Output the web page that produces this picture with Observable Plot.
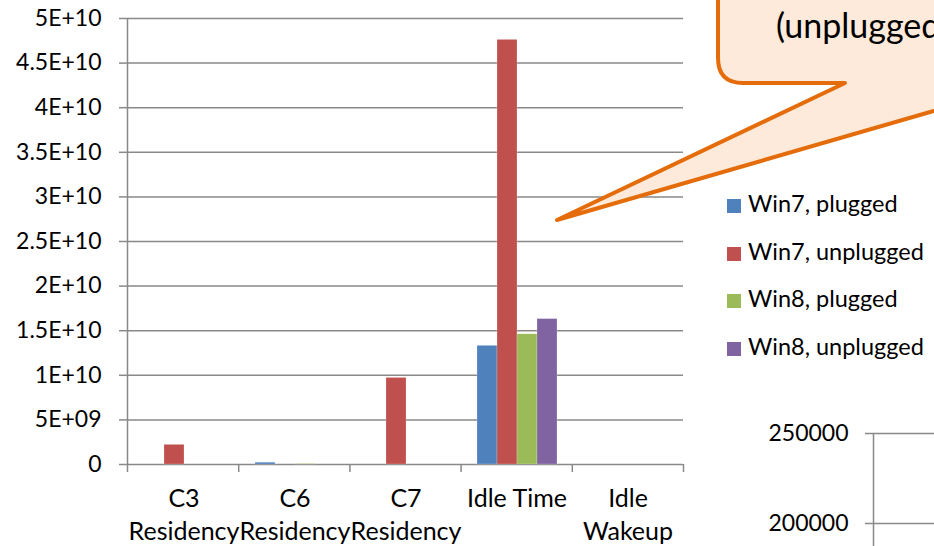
<!DOCTYPE html>
<html>
<head>
<meta charset="utf-8">
<script src="https://cdn.jsdelivr.net/npm/d3@7"></script>
<script src="https://cdn.jsdelivr.net/npm/@observablehq/plot@0.6"></script>
<style>
  html, body { margin: 0; padding: 0; background: #fff; }
  body { width: 934px; height: 546px; overflow: hidden; font-family: Lato, "Open Sans", sans-serif; }
  #wrap { position: relative; width: 934px; height: 546px; overflow: hidden; }
  #wrap > * { position: absolute; }
  .legend-row { height: 47.7px; line-height: 47.7px; font-size: 23.5px; color: #000; white-space: nowrap; }
  .sw { display: inline-block; width: 14px; height: 14px; margin-right: 7px; vertical-align: -1px; }
</style>
</head>
<body>
<div id="wrap"></div>
<script>
// ---- data ----
const categories = ["C3 Residency", "C6 Residency", "C7 Residency", "Idle Time", "Idle Wakeup"];
const categoryLabels = ["C3\nResidency", "C6\nResidency", "C7\nResidency", "Idle Time", "Idle\nWakeup"];
const series = ["Win7, plugged", "Win7, unplugged", "Win8, plugged", "Win8, unplugged"];
const win7Plugged   = [0,      0.2e9,  0,      13.3e9, 0];
const win7Unplugged = [2.2e9,  0,      9.7e9,  47.6e9, 0];
const win8Plugged   = [0,      0.05e9, 0,      14.6e9, 0];
const win8Unplugged = [0,      0,      0,      16.3e9, 0];
const seriesColors = ["#4F81BD", "#C0504D", "#9BBB59", "#8064A2"];
const yTicks = [0, 5e9, 1e10, 1.5e10, 2e10, 2.5e10, 3e10, 3.5e10, 4e10, 4.5e10, 5e10];
const yTickLabels = ["0", "5E+09", "1E+10", "1.5E+10", "2E+10", "2.5E+10", "3E+10", "3.5E+10", "4E+10", "4.5E+10", "5E+10"];
const secondTicks = [200000, 250000];
const secondTickLabels = ["200000", "250000"];
const calloutText = "(unplugged)";

const seriesValues = [win7Plugged, win7Unplugged, win8Plugged, win8Unplugged];
const data = categories.flatMap((c, i) => series.map((s, j) => ({category: c, series: s, value: seriesValues[j][i]})));

const wrap = document.getElementById("wrap");
const FONT = "Lato, 'Open Sans', sans-serif";
const GRID = "#898989";
const frame = {width: 934, height: 546, marginTop: 18, marginRight: 251, marginBottom: 82, marginLeft: 127};

// ---- background: grid, y axis, boundary ticks ----
const back = Plot.plot({
  ...frame,
  style: {fontFamily: FONT, fontSize: "23px", color: "#000", background: "transparent", overflow: "visible"},
  x: {type: "linear", domain: [0, categories.length], axis: null},
  y: {domain: [0, 5e10], axis: null},
  marks: [
    Plot.gridY(yTicks, {stroke: GRID, strokeOpacity: 1, strokeWidth: 1.5}),
    Plot.ruleX([0], {stroke: GRID, strokeWidth: 1.5}),
    Plot.axisY(yTicks, {tickSize: 8, tickPadding: 18, stroke: GRID, strokeWidth: 1.5, fill: "#000", fontSize: 23,
      tickFormat: (d) => yTickLabels[yTicks.indexOf(d)], label: null}),
    Plot.axisX(d3.range(0, categories.length + 1), {tickSize: 8, stroke: GRID, strokeWidth: 1.5, tickFormat: () => "", label: null})
  ]
});
back.style.left = "0px"; back.style.top = "0px";
wrap.appendChild(back);

// ---- bars + category labels ----
const bars = Plot.plot({
  ...frame,
  style: {fontFamily: FONT, fontSize: "25px", color: "#000", background: "transparent", overflow: "visible"},
  fx: {domain: categories, padding: 0},
  x: {domain: series, paddingInner: 0, paddingOuter: 0.775, axis: null},
  y: {domain: [0, 5e10], axis: null},
  color: {domain: series, range: seriesColors},
  marks: [
    Plot.barY(data, {fx: "category", x: "series", y: "value", fill: "series", stroke: "#fff", strokeOpacity: 0.35, strokeWidth: 0.6}),
    Plot.axisFx({anchor: "bottom", tickSize: 0, tickPadding: 19, fontSize: 25, lineHeight: 1.32, fill: "#000",
      tickFormat: (d) => categoryLabels[categories.indexOf(d)], label: null})
  ]
});
bars.style.left = "0px"; bars.style.top = "0px";
wrap.appendChild(bars);

// ---- legend ----
const legend = document.createElement("div");
legend.style.left = "727px"; legend.style.top = "180px";
series.forEach((s, i) => {
  const row = document.createElement("div");
  row.className = "legend-row";
  row.innerHTML = `<span class="sw" style="background:${seriesColors[i]}"></span>${s}`;
  legend.appendChild(row);
});
wrap.appendChild(legend);

// ---- partial second chart (bottom right) ----
const second = Plot.plot({
  width: 400, height: 503, marginTop: 33, marginRight: 0, marginBottom: 20, marginLeft: 173,
  style: {fontFamily: FONT, fontSize: "23px", color: "#000", background: "transparent"},
  x: {type: "linear", domain: [0, 1], axis: null},
  y: {domain: [0, 250000], axis: null},
  marks: [
    Plot.gridY(secondTicks, {stroke: GRID, strokeOpacity: 1, strokeWidth: 1.5}),
    Plot.ruleX([0], {stroke: GRID, strokeWidth: 1.5}),
    Plot.axisY(secondTicks, {tickSize: 8, tickPadding: 17, stroke: GRID, strokeWidth: 1.5, fill: "#000", fontSize: 23,
      tickFormat: (d) => secondTickLabels[secondTicks.indexOf(d)], label: null})
  ]
});
second.style.left = "700px"; second.style.top = "400px";
wrap.appendChild(second);

// ---- callout annotation ----
const ns = "http://www.w3.org/2000/svg";
const call = document.createElementNS(ns, "svg");
call.setAttribute("width", 934); call.setAttribute("height", 546);
call.style.left = "0px"; call.style.top = "0px"; call.style.overflow = "hidden";
const path = document.createElementNS(ns, "path");
path.setAttribute("d", "M718,-20 L718,58 Q718,83 743,83 L845,83 L557,220 L1030,83 L1100,83 L1100,-20 Z");
path.setAttribute("fill", "#FDEADA");
path.setAttribute("stroke", "#E46C0A");
path.setAttribute("stroke-width", "4");
path.setAttribute("stroke-linejoin", "round");
call.appendChild(path);
const txt = document.createElementNS(ns, "text");
txt.setAttribute("x", 776); txt.setAttribute("y", 38);
txt.setAttribute("font-family", FONT); txt.setAttribute("font-size", 34);
txt.setAttribute("fill", "#000");
txt.textContent = calloutText;
call.appendChild(txt);
wrap.appendChild(call);
</script>
</body>
</html>
